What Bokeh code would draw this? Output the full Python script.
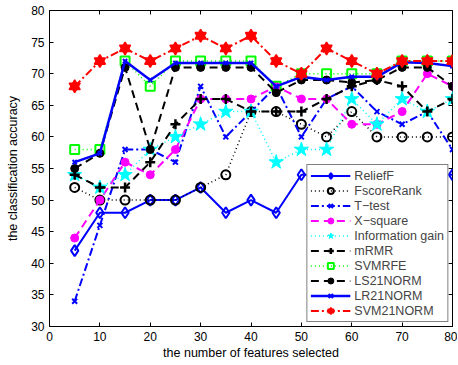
from bokeh.plotting import figure
from bokeh.models import (Range1d, FixedTicker, LinearAxis, Legend, LegendItem)
from bokeh.embed import file_html
from bokeh.resources import INLINE

# ---- data ----
features = [5, 10, 15, 20, 25, 30, 35, 40, 45, 50, 55, 60, 65, 70, 75, 80]
relieff = [42, 48, 48, 50, 50, 52, 48, 50, 48, 54, 54, 54, 54, 54, 54, 54]
fscorerank = [52, 50, 50, 50, 50, 52, 54, 64, 64, 62, 60, 64, 60, 60, 60, 60]
ttest = [34, 46, 58, 58, 56, 68, 60, 64, 68, 60, 66, 68, 64, 62, 64, 58]
xsquare = [44, 50, 56, 54, 58, 66, 66, 66, 68, 66, 66, 62, 62, 64, 70, 68]
infogain = [54, 52, 54, 58, 60, 62, 64, 64, 56, 58, 58, 66, 62, 66, 64, 66]
mrmr = [54, 52, 52, 56, 62, 66, 66, 64, 64, 64, 66, 68, 69, 68, 64, 66]
svmrfe = [58, 58, 72, 68, 72, 72, 72, 72, 68, 70, 70, 70, 70, 72, 72, 72]
ls21norm = [55, 57.4, 71, 58, 71, 71, 71, 71, 67, 69, 69, 68.6, 69, 71, 71, 68]
lr21norm = [56, 57.4, 72, 69, 71.7, 71.7, 71.7, 71.7, 68, 69.5, 69, 69.5, 69.5, 71.8, 71.7, 71.2]
svm21norm = [68, 72, 74, 72, 74, 76, 74, 76, 72, 70, 74, 72, 70, 72, 72, 72]

x_ticks = [0, 10, 20, 30, 40, 50, 60, 70, 80]
y_ticks = [30, 35, 40, 45, 50, 55, 60, 65, 70, 75, 80]

FONT = "Liberation Sans"

p = figure(width=457, height=362, output_backend="svg", toolbar_location=None,
           x_range=Range1d(0, 80), y_range=Range1d(30, 80),
           min_border_left=49, min_border_right=5, min_border_top=10, min_border_bottom=35)
p.xgrid.visible = False
p.ygrid.visible = False
p.outline_line_color = "black"
p.outline_line_width = 1
p.background_fill_color = "white"

for ax in (p.xaxis[0], p.yaxis[0]):
    ax.major_tick_in = 4
    ax.major_tick_out = 0
    ax.minor_tick_line_color = None
    ax.axis_line_color = "black"
    ax.major_label_text_font = FONT
    ax.major_label_text_font_size = "12px"
    ax.major_label_text_color = "black"
    ax.axis_label_text_font = FONT
    ax.axis_label_text_font_size = "12.5px"
    ax.axis_label_text_font_style = "normal"
    ax.axis_label_text_color = "black"
p.xaxis[0].ticker = FixedTicker(ticks=x_ticks)
p.yaxis[0].ticker = FixedTicker(ticks=y_ticks)
p.xaxis[0].axis_label = "the number of features selected"
p.yaxis[0].axis_label = "the classification accuracy"
p.xaxis[0].major_label_standoff = 5
p.xaxis[0].axis_label_standoff = 2
p.yaxis[0].major_label_standoff = 5
p.yaxis[0].axis_label_standoff = 8

top = LinearAxis(ticker=FixedTicker(ticks=x_ticks))
right = LinearAxis(ticker=FixedTicker(ticks=y_ticks))
for ax in (top, right):
    ax.major_tick_in = 4
    ax.major_tick_out = 0
    ax.minor_tick_line_color = None
    ax.axis_line_color = None
    ax.major_label_text_color = None
    ax.major_label_text_font_size = "1px"
    ax.major_label_standoff = 0
p.add_layout(top, "above")
p.add_layout(right, "right")

items = []

def add(label, y, color, dash, marker, size, fill=None, lw=2, mlw=2):
    r1 = p.line(features, y, line_color=color, line_width=lw, line_dash=dash)
    rs = [r1]
    for m in marker:
        rs.append(p.scatter(features, y, marker=m, size=size, line_color=color,
                            line_width=mlw, fill_color=fill))
    items.append(LegendItem(label=label, renderers=rs))

add("ReliefF", relieff, "#0000ff", "solid", ["diamond"], 11, None, 2, 2)
add("FscoreRank", fscorerank, "black", "1 3", ["circle"], 9, None, 1.5, 2)
add("T\u2212test", ttest, "#0000ff", "8 3 2 3", ["x"], 7, None, 2, 2)
add("X\u2212square", xsquare, "#ff00ff", "8 5", ["circle"], 8, "#ff00ff", 2, 1)
add("Information gain", infogain, "#00ffff", "1 3", ["star"], 15, "#00ffff", 1.5, 1)
add("mRMR", mrmr, "black", "8 5", ["cross"], 10, None, 2, 2.5)
add("SVMRFE", svmrfe, "#00ff00", "1 3", ["square"], 9, None, 1.5, 2)
add("LS21NORM", ls21norm, "black", "8 5", ["circle"], 8, "black", 2, 1)
add("LR21NORM", lr21norm, "#0000ff", "solid", ["x"], 6, None, 2.5, 2)
add("SVM21NORM", svm21norm, "#ff0000", "8 3 2 3", ["triangle", "inverted_triangle"], 11, "#ff0000", 2, 1.5)

legend = Legend(items=items, location="bottom_right", margin=4,
                label_text_font=FONT, label_text_font_size="12.5px",
                label_height=15, glyph_height=15, glyph_width=40,
                label_standoff=4, spacing=0, padding=3,
                border_line_color="black", border_line_width=1,
                background_fill_alpha=1.0, background_fill_color="white")
p.add_layout(legend, "center")

open("out.html", "w").write(file_html(p, INLINE))
